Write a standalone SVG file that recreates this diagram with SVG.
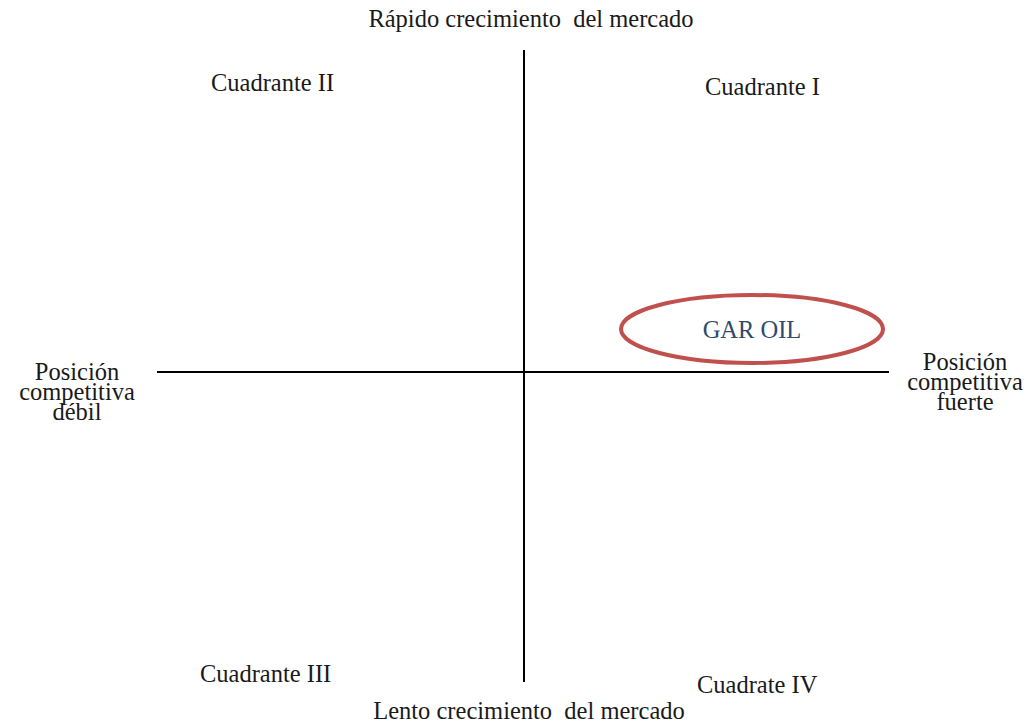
<svg xmlns="http://www.w3.org/2000/svg" width="1027" height="724" viewBox="0 0 1027 724">
<style>
text{font-family:"Liberation Serif","Times New Roman",serif;font-size:24.5px;fill:#1a1a1a}
.m{text-anchor:middle}
.ax{stroke:#000;stroke-width:2;fill:none}
</style>
<rect width="1027" height="724" fill="#fff"/>
<g id="connectors">
<line class="ax" x1="524" y1="50" x2="524" y2="682"/>
<line class="ax" x1="157" y1="372" x2="889" y2="372"/>
</g>
<g id="top"><text class="m" x="531" y="27" xml:space="preserve">Rápido crecimiento  del mercado</text></g>
<g id="bottom"><text class="m" x="529" y="719" xml:space="preserve">Lento crecimiento  del mercado</text></g>
<g id="q2"><text x="211" y="91">Cuadrante II</text></g>
<g id="q1"><text x="705" y="95">Cuadrante I</text></g>
<g id="q3"><text x="200" y="682">Cuadrante III</text></g>
<g id="q4"><text x="697" y="693">Cuadrate IV</text></g>
<g id="left"><text class="m" x="77" y="380">Posición</text><text class="m" x="77" y="400">competitiva</text><text class="m" x="77" y="420">débil</text></g>
<g id="right"><text class="m" x="965" y="370">Posición</text><text class="m" x="965" y="390">competitiva</text><text class="m" x="965" y="410">fuerte</text></g>
<g id="garoil"><ellipse cx="752" cy="329" rx="131" ry="34" fill="none" stroke="#c0504d" stroke-width="4"/><text class="m" x="752" y="338" style="fill:#2f4b6e">GAR OIL</text></g>
</svg>
